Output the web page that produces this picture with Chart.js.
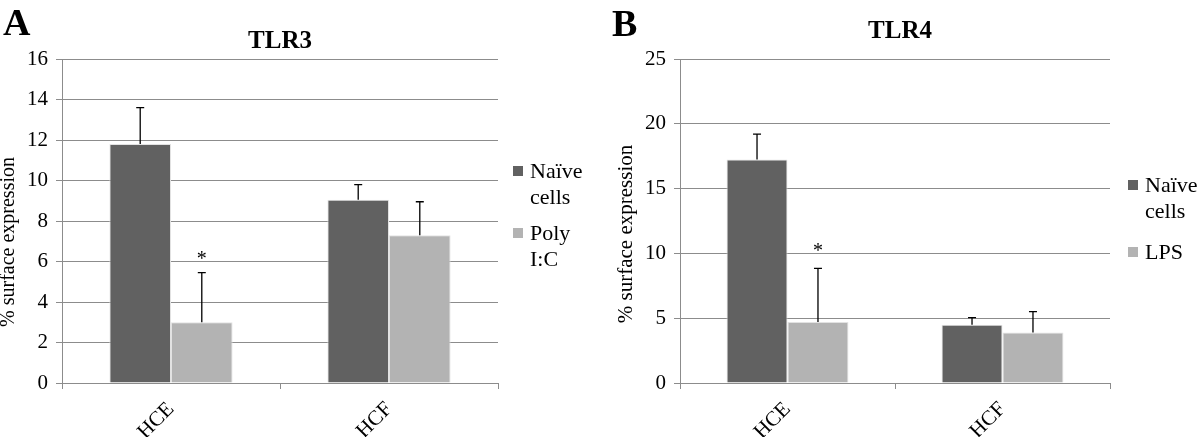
<!DOCTYPE html>
<html>
<head>
<meta charset="utf-8">
<script src="https://cdn.jsdelivr.net/npm/chart.js@4.4.1/dist/chart.umd.min.js"></script>
<style>
  body { margin: 0; background: #fff; }
  #wrap { position: relative; width: 1200px; height: 437px; }
  canvas { position: absolute; top: 0; }
</style>
</head>
<body>
<div id="wrap">
  <canvas id="chartA" width="600" height="437" style="left:0"></canvas>
  <canvas id="chartB" width="600" height="437" style="left:600px"></canvas>
</div>
<script>
// data
var categories = ['HCE', 'HCF'];

var tlr3Naive = [11.8, 9.05];
var tlr3NaiveErr = [1.8, 0.75];
var tlr3Poly = [3.0, 7.3];
var tlr3PolyErr = [2.45, 1.65];
var tlr3Stars = [true, false];

var tlr4Naive = [17.25, 4.5];
var tlr4NaiveErr = [1.95, 0.55];
var tlr4Lps = [4.7, 3.9];
var tlr4LpsErr = [4.15, 1.6];
var tlr4Stars = [true, false];

var SERIF = "'Liberation Serif', 'Times New Roman', serif";
var GRID = '#8c8c8c';

// error bars, stars, legend, titles
var panelDecor = {
  id: 'panelDecor',
  afterDatasetsDraw: function(chart, args, o) {
    var ctx = chart.ctx, y = chart.scales.y;
    ctx.save();
    chart.data.datasets.forEach(function(ds, i) {
      chart.getDatasetMeta(i).data.forEach(function(bar, j) {
        var top = y.getPixelForValue(ds.data[j] + ds.errors[j]);
        ctx.strokeStyle = '#000';
        ctx.lineWidth = 1.3;
        ctx.beginPath();
        ctx.moveTo(bar.x, bar.y);
        ctx.lineTo(bar.x, top);
        ctx.moveTo(bar.x - 4, top);
        ctx.lineTo(bar.x + 4, top);
        ctx.stroke();
        if (ds.stars && ds.stars[j]) {
          ctx.fillStyle = '#000';
          ctx.font = '20px ' + SERIF;
          ctx.textAlign = 'center';
          ctx.textBaseline = 'middle';
          ctx.fillText('*', bar.x, top - o.starGap + 3);
        }
      });
    });

    // legend
    ctx.font = '22px ' + SERIF;
    ctx.textAlign = 'left';
    ctx.textBaseline = 'alphabetic';
    var base = o.legendTop;
    chart.data.datasets.forEach(function(ds, i) {
      ctx.fillStyle = ds.backgroundColor;
      ctx.fillRect(o.legendX, base - 12, 10, 10);
      ctx.fillStyle = '#000';
      ds.legendLines.forEach(function(line, k) {
        ctx.fillText(line, o.legendX + 17, base + k * 26);
      });
      base += (ds.legendLines.length - 1) * 26 + o.legendGap;
    });

    // y axis title
    ctx.save();
    ctx.translate(o.yTitleX, o.yTitleY);
    ctx.rotate(-Math.PI / 2);
    ctx.textAlign = 'center';
    ctx.textBaseline = 'middle';
    ctx.font = o.yTitleSize + 'px ' + SERIF;
    ctx.fillText('% surface expression', 0, 0);
    ctx.restore();

    // title and panel letter
    ctx.textAlign = 'center';
    ctx.font = 'bold 25px ' + SERIF;
    ctx.fillText(o.title, o.titleX, o.titleY);
    ctx.textAlign = 'left';
    ctx.font = 'bold 38px ' + SERIF;
    ctx.fillText(o.letter, o.letterX, o.letterY);
    ctx.restore();
  }
};

function makePanel(id, naive, naiveErr, treated, treatedErr, stars, treatedLines, yMax, yStep, p) {
  return new Chart(document.getElementById(id), {
    type: 'bar',
    data: {
      labels: categories,
      datasets: [{
        label: 'Naïve cells',
        legendLines: ['Naïve', 'cells'],
        data: naive,
        errors: naiveErr,
        backgroundColor: '#616161',
        borderColor: '#e2e2e2',
        borderWidth: 1,
        barPercentage: 1,
        categoryPercentage: p.catPct
      }, {
        label: treatedLines.join(' '),
        legendLines: treatedLines,
        data: treated,
        errors: treatedErr,
        stars: stars,
        backgroundColor: '#b3b3b3',
        borderColor: '#e2e2e2',
        borderWidth: 1,
        barPercentage: 1,
        categoryPercentage: p.catPct
      }]
    },
    options: {
      responsive: false,
      animation: false,
      layout: { padding: { left: p.padLeft, right: p.padRight, top: 59, bottom: 0 } },
      plugins: {
        legend: { display: false },
        tooltip: { enabled: false },
        panelDecor: p.decor
      },
      scales: {
        x: {
          grid: { offset: true, drawOnChartArea: false, color: GRID, tickLength: 6 },
          border: { color: GRID },
          ticks: {
            color: '#000', font: { family: SERIF, size: 21 },
            minRotation: 45, maxRotation: 45, padding: 8
          },
          afterFit: function(s) { s.height = 54; }
        },
        y: {
          min: 0, max: yMax,
          grid: { color: GRID, tickLength: 6 },
          border: { color: GRID },
          ticks: { stepSize: yStep, color: '#000', font: { family: SERIF, size: 21 }, padding: 8 },
          afterFit: function(s) { s.width = p.yWidth; }
        }
      }
    },
    plugins: [panelDecor]
  });
}

makePanel('chartA', tlr3Naive, tlr3NaiveErr, tlr3Poly, tlr3PolyErr, tlr3Stars, ['Poly', 'I:C'], 16, 2, {
  catPct: 0.565, padLeft: 0, padRight: 102, yWidth: 62,
  decor: { starGap: 16, legendX: 513, legendTop: 178, legendGap: 36,
           yTitleX: 9, yTitleY: 242, yTitleSize: 20,
           title: 'TLR3', titleX: 280, titleY: 48, letter: 'A', letterX: 3, letterY: 35 }
});

makePanel('chartB', tlr4Naive, tlr4NaiveErr, tlr4Lps, tlr4LpsErr, tlr4Stars, ['LPS'], 25, 5, {
  catPct: 0.567, padLeft: 0, padRight: 90, yWidth: 80,
  decor: { starGap: 20, legendX: 528, legendTop: 192, legendGap: 41,
           yTitleX: 26, yTitleY: 234, yTitleSize: 21,
           title: 'TLR4', titleX: 300, titleY: 38, letter: 'B', letterX: 12, letterY: 36 }
});
</script>
</body>
</html>
